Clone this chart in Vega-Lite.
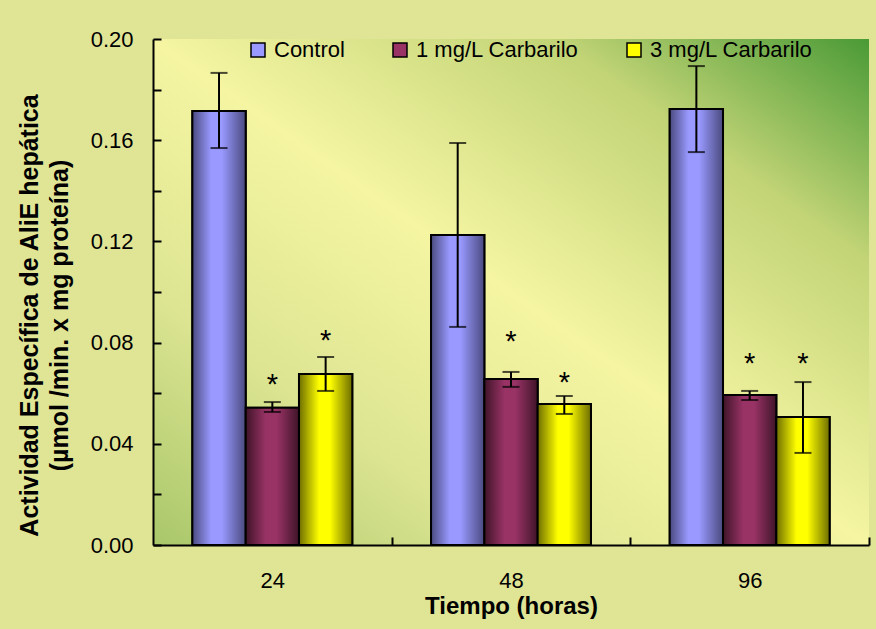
{
  "$schema": "https://vega.github.io/schema/vega-lite/v6.json",
  "width": 716,
  "height": 506,
  "autosize": {"type": "none"},
  "padding": {"left": 153, "top": 39, "right": 7, "bottom": 84},
  "background": "#e0e596",
  "config": {
    "view": {
      "stroke": null,
      "fill": {
        "gradient": "linear",
        "x1": 1, "y1": 0, "x2": 0, "y2": 1,
        "stops": [
          {"offset": 0, "color": "#4a9a36"},
          {"offset": 0.22, "color": "#c2d476"},
          {"offset": 0.5, "color": "#f5f5a2"},
          {"offset": 0.75, "color": "#dde592"},
          {"offset": 1, "color": "#a9c76a"}
        ]
      }
    },
    "font": "Liberation Sans",
    "axis": {
      "domainColor": "black",
      "domainWidth": 2,
      "tickColor": "black",
      "tickWidth": 2,
      "tickSize": -8,
      "labelColor": "black",
      "labelFont": "Liberation Sans",
      "labelFontSize": 22,
      "titleFont": "Liberation Sans",
      "titleFontSize": 24,
      "titleFontWeight": "bold",
      "titleColor": "black",
      "grid": false
    },
    "legend": {
      "labelFont": "Liberation Sans",
      "labelFontSize": 22,
      "labelColor": "black",
      "labelLimit": 0
    }
  },
  "data": {
    "values": [
      {"time": "24", "series": "Control", "value": 0.1715, "lo": 0.1569, "hi": 0.1866, "star": null},
      {"time": "24", "series": "1 mg/L Carbarilo", "value": 0.0542, "lo": 0.0526, "hi": 0.0565, "star": 0.0664},
      {"time": "24", "series": "3 mg/L Carbarilo", "value": 0.0676, "lo": 0.0609, "hi": 0.0743, "star": 0.0838},
      {"time": "48", "series": "Control", "value": 0.1225, "lo": 0.0862, "hi": 0.1589, "star": null},
      {"time": "48", "series": "1 mg/L Carbarilo", "value": 0.0656, "lo": 0.0625, "hi": 0.0684, "star": 0.0834},
      {"time": "48", "series": "3 mg/L Carbarilo", "value": 0.0557, "lo": 0.0518, "hi": 0.0589, "star": 0.0672},
      {"time": "96", "series": "Control", "value": 0.1723, "lo": 0.1553, "hi": 0.1893, "star": null},
      {"time": "96", "series": "1 mg/L Carbarilo", "value": 0.0593, "lo": 0.0573, "hi": 0.0609, "star": 0.0747},
      {"time": "96", "series": "3 mg/L Carbarilo", "value": 0.0506, "lo": 0.0364, "hi": 0.0644, "star": 0.0747}
    ]
  },
  "encoding": {
    "x": {
      "field": "time",
      "type": "nominal",
      "sort": ["24", "48", "96"],
      "scale": {"paddingInner": 0.33, "paddingOuter": 0.165},
      "title": "Tiempo (horas)",
      "axis": {
        "labelAngle": 0,
        "tickOffset": 119.3,
        "labelOffset": -119.3,
        "labelPadding": 33,
        "titleBaseline": "alphabetic",
        "titleY": 68
      }
    },
    "xOffset": {
      "field": "series",
      "type": "nominal",
      "scale": {
        "domain": ["Control", "1 mg/L Carbarilo", "3 mg/L Carbarilo"],
        "paddingInner": 0,
        "paddingOuter": 0
      }
    }
  },
  "layer": [
    {
      "mark": {"type": "bar", "stroke": "black", "strokeWidth": 2},
      "encoding": {
        "y": {
          "field": "value",
          "type": "quantitative",
          "scale": {"domain": [0, 0.2], "nice": false, "zero": true},
          "title": ["Actividad Específica  de AliE hepática", "(µmol /min. x mg proteína)"],
          "axis": {
            "values": [0, 0.01, 0.02, 0.03, 0.04, 0.05, 0.06, 0.07, 0.08, 0.09, 0.1, 0.11, 0.12, 0.13, 0.14, 0.15, 0.16, 0.17, 0.18, 0.19, 0.2],
            "labelExpr": "abs(datum.value * 25 - round(datum.value * 25)) < 0.001 ? format(datum.value, '.2f') : ''",
            "labelPadding": 28,
            "titleFontSize": 25,
            "titleBaseline": "alphabetic",
            "titleLineHeight": 30,
            "titleX": -116,
            "titleY": 276
          }
        },
        "color": {
          "field": "series",
          "type": "nominal",
          "scale": {
            "domain": ["Control", "1 mg/L Carbarilo", "3 mg/L Carbarilo"],
            "range": ["#9999ff", "#993366", "#ffff00"]
          },
          "legend": {
            "title": null,
            "orient": "none",
            "direction": "horizontal",
            "legendX": 94,
            "legendY": 0,
            "padding": 0,
            "symbolType": "square",
            "symbolSize": 196,
            "symbolStrokeColor": "black",
            "symbolStrokeWidth": 1.5,
            "symbolOpacity": 1,
            "labelOffset": 5,
            "labelLimit": 0,
            "columnPadding": 44
          }
        }
      }
    },
    {
      "mark": {"type": "bar", "stroke": "black", "strokeWidth": 2},
      "encoding": {
        "y": {"field": "value", "type": "quantitative"},
        "fill": {
          "condition": [
            {
              "test": "datum.series === 'Control'",
              "value": {
                "gradient": "linear", "x1": 0, "y1": 0, "x2": 1, "y2": 0,
                "stops": [
                  {"offset": 0, "color": "#4a4a80"},
                  {"offset": 0.35, "color": "#9999ff"},
                  {"offset": 0.55, "color": "#9999ff"},
                  {"offset": 1, "color": "#4a4a80"}
                ]
              }
            },
            {
              "test": "datum.series === '1 mg/L Carbarilo'",
              "value": {
                "gradient": "linear", "x1": 0, "y1": 0, "x2": 1, "y2": 0,
                "stops": [
                  {"offset": 0, "color": "#3f1428"},
                  {"offset": 0.38, "color": "#993366"},
                  {"offset": 0.58, "color": "#993366"},
                  {"offset": 1, "color": "#3f1428"}
                ]
              }
            }
          ],
          "value": {
            "gradient": "linear", "x1": 0, "y1": 0, "x2": 1, "y2": 0,
            "stops": [
              {"offset": 0, "color": "#6e6e00"},
              {"offset": 0.38, "color": "#ffff00"},
              {"offset": 0.58, "color": "#ffff00"},
              {"offset": 1, "color": "#6e6e00"}
            ]
          }
        }
      }
    },
    {
      "mark": {"type": "rule", "color": "black", "strokeWidth": 2},
      "encoding": {
        "y": {"field": "lo", "type": "quantitative"},
        "y2": {"field": "hi"}
      }
    },
    {
      "mark": {"type": "tick", "color": "black", "size": 17, "thickness": 2},
      "encoding": {
        "y": {"field": "lo", "type": "quantitative"}
      }
    },
    {
      "mark": {"type": "tick", "color": "black", "size": 17, "thickness": 2},
      "encoding": {
        "y": {"field": "hi", "type": "quantitative"}
      }
    },
    {
      "transform": [{"filter": "datum.star != null"}],
      "mark": {"type": "text", "text": "*", "font": "Liberation Sans", "fontSize": 29, "color": "black", "baseline": "alphabetic", "dy": 17},
      "encoding": {
        "y": {"field": "star", "type": "quantitative"}
      }
    }
  ]
}
